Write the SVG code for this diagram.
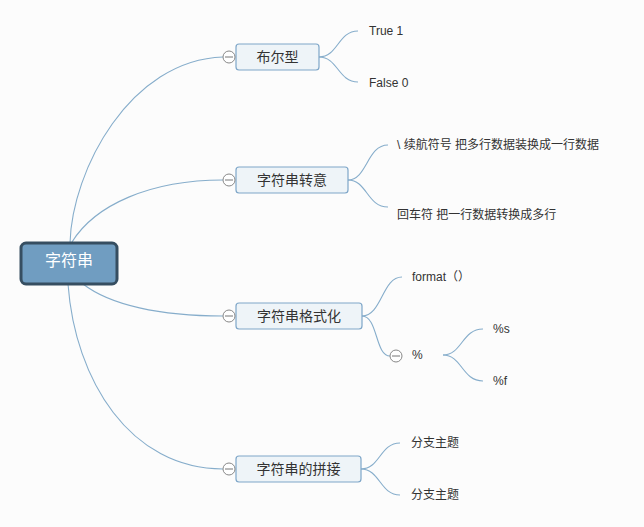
<svg xmlns="http://www.w3.org/2000/svg" width="644" height="527" viewBox="0 0 644 527">
<style>
.bg{fill:#fcfcfc}
.conn path{fill:none;stroke:#86adcb;stroke-width:1.1}
.topic{fill:#eef4f8;stroke:#7ea6c8;stroke-width:1.2}
.root{fill:#709dc1;stroke:#364e61;stroke-width:3}
.tl{font-family:"Liberation Sans","Noto Sans CJK SC",sans-serif;font-size:14px;fill:#333;text-anchor:middle}
.rl{font-family:"Liberation Sans","Noto Sans CJK SC",sans-serif;font-size:16px;fill:#fff;text-anchor:middle}
.sl{font-family:"Liberation Sans","Noto Sans CJK SC",sans-serif;font-size:12px;fill:#333}
.mc{fill:#fff;stroke:#888;stroke-width:1}
.ml{stroke:#777;stroke-width:1}
</style>
<defs>
<g id="minus"><circle class="mc" cx="0" cy="0" r="6"/><line class="ml" x1="-4" y1="0" x2="4" y2="0"/></g>
</defs>
<rect class="bg" x="0" y="0" width="644" height="527"/>
<g id="connectors" class="conn">
<path d="M70,243 C72,170 130,60 223,57"/>
<path d="M72,242 C95,205 150,180 223,180"/>
<path d="M83,284 C110,305 160,316 223,316"/>
<path d="M68,284 C75,380 130,469 223,469"/>
<path d="M319,57 C338,57 338,31 358,31"/>
<path d="M319,57 C338,57 338,82 358,82"/>
<path d="M348,180 C367,180 367,145 388,145"/>
<path d="M348,180 C367,180 367,207 388,207"/>
<path d="M362,316 C382,316 382,277 402,277"/>
<path d="M362,316 C378,316 375,356 390,356"/>
<path d="M443,355 C462,355 462,329 483,329"/>
<path d="M443,355 C462,355 462,381 483,381"/>
<path d="M361,469 C380,469 380,443 400,443"/>
<path d="M361,469 C380,469 380,495 400,495"/>
</g>
<g id="root">
<rect class="root" x="21" y="243" width="96" height="41" rx="5"/>
<text class="rl" x="69" y="266">字符串</text>
</g>
<g id="n1">
<rect class="topic" x="236" y="44" width="83" height="26" rx="3"/>
<text class="tl" x="277.5" y="62">布尔型</text>
<use href="#minus" x="229" y="57"/>
</g>
<g id="n1a"><text class="sl" x="369" y="35">True 1</text></g>
<g id="n1b"><text class="sl" x="369" y="87">False 0</text></g>
<g id="n2">
<rect class="topic" x="236" y="167" width="112" height="26" rx="3"/>
<text class="tl" x="292" y="185">字符串转意</text>
<use href="#minus" x="229" y="180"/>
</g>
<g id="n2a"><text class="sl" x="397" y="149">\ 续航符号 把多行数据装换成一行数据</text></g>
<g id="n2b"><text class="sl" x="397" y="219">回车符 把一行数据转换成多行</text></g>
<g id="n3">
<rect class="topic" x="236" y="303" width="126" height="26" rx="3"/>
<text class="tl" x="299" y="321">字符串格式化</text>
<use href="#minus" x="229" y="316"/>
</g>
<g id="n3a"><text class="sl" x="412" y="281">format（）</text></g>
<g id="n3b">
<text class="sl" x="412" y="359">%</text>
<use href="#minus" x="396" y="356"/>
</g>
<g id="n3b1"><text class="sl" x="493" y="333">%s</text></g>
<g id="n3b2"><text class="sl" x="493" y="385">%f</text></g>
<g id="n4">
<rect class="topic" x="236" y="456" width="125" height="26" rx="3"/>
<text class="tl" x="298.5" y="474">字符串的拼接</text>
<use href="#minus" x="229" y="469"/>
</g>
<g id="n4a"><text class="sl" x="411" y="447">分支主题</text></g>
<g id="n4b"><text class="sl" x="411" y="499">分支主题</text></g>
</svg>
